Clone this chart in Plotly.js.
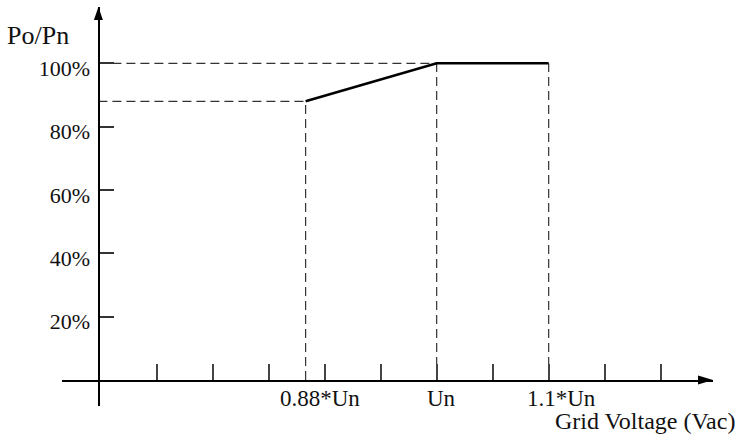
<!DOCTYPE html>
<html>
<head>
<meta charset="utf-8">
<script src="https://cdn.plot.ly/plotly-3.0.1.min.js"></script>
<style>html,body{margin:0;padding:0;background:#fff;}#chart{width:746px;height:434px;}</style>
</head>
<body>
<div id="chart"></div>
<script>
// ---- data (x in units of Un, y in % of Pn) ----
const curveX = [0.883, 1.0, 1.1];
const curveY = [88, 100, 100];
const xLabelText = ['0.88*Un', 'Un', '1.1*Un'];
const xLabelPos = [0.896, 1.004, 1.1116];
const xTickVals = [0.75, 0.80, 0.85, 0.90, 0.95, 1.00, 1.05, 1.10, 1.15, 1.20];
const yTickVals = [20, 40, 60, 80, 100];
const yTickText = ['20%', '40%', '60%', '80%', '100%'];
const xOrigin = 0.698;          // where the vertical axis crosses
const xRange = [0.6655, 1.2467];
const yRange = [-8.21, 117.78];

const FONT = 'Liberation Serif, Times New Roman, serif';
const dashStyle = {color: '#333', width: 1.2, dash: '9px,5px'};

const traces = [];
// dashed guide lines from each point of the curve to both axes
traces.push({x: [xOrigin, curveX[0]], y: [curveY[0], curveY[0]], mode: 'lines', line: dashStyle});
traces.push({x: [xOrigin, curveX[1]], y: [curveY[1], curveY[1]], mode: 'lines', line: dashStyle});
curveX.forEach((xv, i) => {
  traces.push({x: [xv, xv], y: [0, curveY[i]], mode: 'lines', line: dashStyle});
});
// the solid curve
traces.push({x: curveX, y: curveY, mode: 'lines', line: {color: '#000', width: 2.6}});

const annotations = xLabelText.map((t, i) => ({
  x: xLabelPos[i], xref: 'x', y: 0, yref: 'y', yshift: -18,
  text: t, showarrow: false, xanchor: 'center', yanchor: 'middle',
  font: {family: FONT, size: 23, color: '#111'}
}));
annotations.push({
  x: (38 - 62) / 651, xref: 'paper', y: (434 - 28 - 35) / 399, yref: 'paper', showarrow: false,
  xanchor: 'center', yanchor: 'middle',
  text: 'Po/Pn', font: {family: FONT, size: 26, color: '#111'}
});
annotations.push({
  x: xRange[1], xref: 'x', y: 0, yref: 'y', yshift: -41, xshift: 24,
  xanchor: 'right', yanchor: 'middle', showarrow: false,
  text: 'Grid Voltage (Vac)', font: {family: FONT, size: 24, color: '#111'}
});

const shapes = [
  {type: 'path', xref: 'x', yref: 'y', xsizemode: 'pixel', ysizemode: 'pixel',
   xanchor: xOrigin, yanchor: yRange[1], path: 'M -4.5 -13 L 4.5 -13 L 0 0 Z',
   fillcolor: '#000', line: {width: 0}},
  {type: 'path', xref: 'x', yref: 'y', xsizemode: 'pixel', ysizemode: 'pixel',
   xanchor: xRange[1], yanchor: 0, path: 'M 0 0 L -15 4.5 L -15 -4.5 Z',
   fillcolor: '#000', line: {width: 0}}
];

const layout = {
  width: 746, height: 434,
  margin: {l: 62, r: 33, t: 7, b: 28, pad: 0},
  paper_bgcolor: '#fff', plot_bgcolor: '#fff',
  showlegend: false,
  hovermode: false,
  xaxis: {
    range: xRange, anchor: 'free',
    position: (0 - yRange[0]) / (yRange[1] - yRange[0]),
    showgrid: false, zeroline: false,
    showline: true, linecolor: '#000', linewidth: 1.6,
    ticks: 'inside', ticklen: 16, tickwidth: 1.8, tickcolor: '#444',
    tickvals: xTickVals, showticklabels: false
  },
  yaxis: {
    range: yRange, anchor: 'free',
    position: (xOrigin - xRange[0]) / (xRange[1] - xRange[0]),
    showgrid: false, zeroline: false,
    showline: true, linecolor: '#000', linewidth: 1.6,
    ticks: 'inside', ticklen: 14, tickwidth: 1.8, tickcolor: '#333',
    tickvals: yTickVals, ticktext: yTickText,
    ticklabelshift: 5, ticklabelstandoff: 4,
    tickfont: {family: FONT, size: 22, color: '#111'}
  },
  annotations: annotations,
  shapes: shapes
};

Plotly.newPlot('chart', traces, layout, {displayModeBar: false, staticPlot: true});
</script>
</body>
</html>
